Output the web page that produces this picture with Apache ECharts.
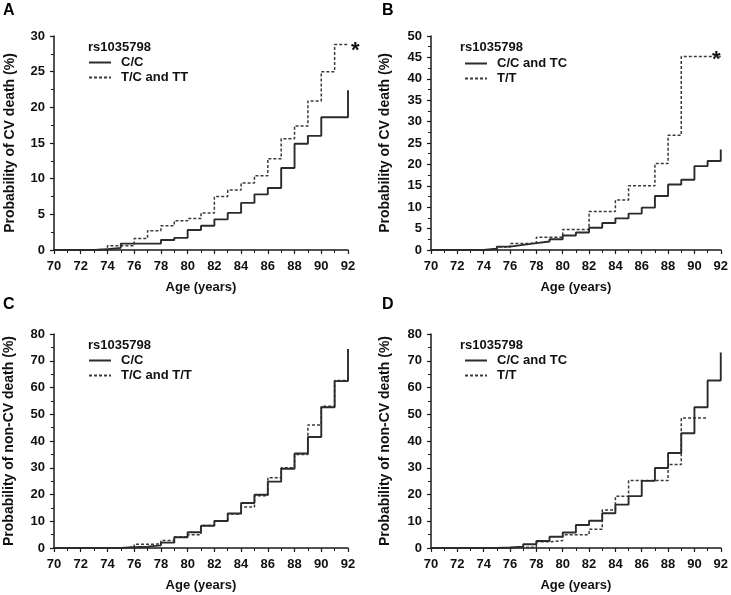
<!DOCTYPE html>
<html><head><meta charset="utf-8">
<script src="https://cdn.jsdelivr.net/npm/echarts@6/dist/echarts.min.js"></script>
<style>html,body{margin:0;padding:0;background:#fff}#c{width:731px;height:595px}</style>
</head><body><div id="c"></div>
<script>
// Age (years) at which each step starts
const years = [70,71,72,73,74,75,76,77,78,79,80,81,82,83,84,85,86,87,88,89,90,91,92];

// Panel A: probability of CV death (%)
const aNames = ['C/C', 'T/C and TT'];
const aSolid  = [0,0,0,0.1,0.3,0.9,0.9,0.9,1.4,1.7,2.8,3.4,4.3,5.2,6.6,7.8,8.7,11.5,14.9,16.0,18.6,18.6,22.4];
const aDashed = [0,0,0,0.1,0.6,0.6,1.6,2.7,3.4,4.1,4.4,5.2,7.5,8.4,9.4,10.4,12.8,15.6,17.4,20.9,25.0,28.8,28.8];

// Panel B: probability of CV death (%)
const bNames = ['C/C and TC', 'T/T'];
const bSolid  = [0,0,0,0,0.3,0.8,1.2,1.6,2.0,2.5,3.4,4.1,5.2,6.3,7.4,8.5,9.9,12.6,15.3,16.4,19.6,20.8,23.5];
const bDashed = [0,0,0,0,0.2,0.7,1.5,1.6,3.0,3.0,4.8,4.8,9.0,9.0,11.7,15.0,15.0,20.2,26.8,45.2,45.2,45.2,45.2];

// Panel C: probability of non-CV death (%)
const cNames = ['C/C', 'T/C and T/T'];
const cSolid  = [0,0,0,0,0,0.3,0.5,1.0,2.0,4.0,5.9,8.3,10.1,12.9,16.8,19.9,24.8,29.6,35.3,41.5,52.6,62.4,74.4];
const cDashed = [0,0,0,0,0,0.3,1.4,1.5,2.8,4.1,5.0,8.4,10.0,12.7,15.3,19.5,26.3,30.0,35.0,46.0,53.0,62.6,62.6];

// Panel D: probability of non-CV death (%)
const dNames = ['C/C and TC', 'T/T'];
const dSolid  = [0,0,0,0,0,0.2,0.5,1.4,2.6,4.2,5.8,8.6,10.2,13.0,16.2,19.4,25.1,29.9,35.5,42.9,52.6,62.6,73.1];
const dDashed = [0,0,0,0,0,0,0.2,0.3,2.3,2.8,5.0,5.0,7.0,14.2,19.3,25.2,25.2,25.2,31.2,48.6,48.6,48.6,null];

const panelLetters = ['A','B','C','D'];
const snpLabel = 'rs1035798';
const yTitles = ['Probability of CV death (%)','Probability of CV death (%)','Probability of non-CV death (%)','Probability of non-CV death (%)'];
const yMax = [30, 50, 80, 80];
const yInterval = [5, 5, 10, 10];
const xTitle = 'Age (years)';

const FONT = 'Liberation Sans, Arial, sans-serif';
const TXT = '#111';

const grids = [
  {left: 54, top: 36, width: 294, height: 214},
  {left: 431, top: 36, width: 292, height: 214},
  {left: 54, top: 334, width: 294, height: 214},
  {left: 431, top: 334, width: 292, height: 214}
];
const yNameGap = [37, 39, 38, 39];

function pairs(vals){ const out=[]; vals.forEach((v,i)=>{ if(v!==null) out.push([years[i], v]); }); return out; }

const panels = [
  {names:aNames, s:aSolid, d:aDashed},
  {names:bNames, s:bSolid, d:bDashed},
  {names:cNames, s:cSolid, d:cDashed},
  {names:dNames, s:dSolid, d:dDashed}
];

const axisLineStyle = {color:'#1a1a1a', width:1.5};
const labelStyle = {color:TXT, fontFamily:FONT, fontWeight:'bold', fontSize:13};

const xAxis = grids.map((g,i)=>({
  type:'value', gridIndex:i, min:70, max:92, interval:2,
  name: xTitle, nameLocation:'middle', nameGap:31,
  nameTextStyle:{color:TXT, fontFamily:FONT, fontWeight:'bold', fontSize:13},
  axisLine:{show:true, onZero:false, lineStyle:axisLineStyle},
  axisTick:{show:true, inside:false, length:4, lineStyle:{color:'#1a1a1a', width:1.2}},
  minorTick:{show:true, splitNumber:2, length:3, lineStyle:{color:'#1a1a1a', width:1}},
  axisLabel:Object.assign({margin:10}, labelStyle),
  splitLine:{show:false}, minorSplitLine:{show:false}
}));

const yAxis = grids.map((g,i)=>({
  type:'value', gridIndex:i, min:0, max:yMax[i], interval:yInterval[i],
  name: yTitles[i], nameLocation:'middle', nameGap:yNameGap[i],
  nameTextStyle:{color:TXT, fontFamily:FONT, fontWeight:'bold', fontSize:14},
  axisLine:{show:true, lineStyle:axisLineStyle},
  axisTick:{show:true, inside:false, length:4, lineStyle:{color:'#1a1a1a', width:1.2}},
  minorTick:{show:true, splitNumber:2, length:3, lineStyle:{color:'#1a1a1a', width:1}},
  axisLabel:Object.assign({margin:9}, labelStyle),
  splitLine:{show:false}, minorSplitLine:{show:false}
}));

const series = [];
panels.forEach((p,i)=>{
  series.push({
    type:'line', name:p.names[0], xAxisIndex:i, yAxisIndex:i, step:'end',
    symbol:'none', data:pairs(p.s), clip:false, z:3,
    lineStyle:{color:'#2b2b2b', width:1.9, type:'solid'}, itemStyle:{color:'#2b2b2b'}
  });
  series.push({
    type:'line', name:p.names[1], xAxisIndex:i, yAxisIndex:i, step:'end',
    symbol:'none', data:pairs(p.d), clip:false, z:2,
    lineStyle:{color:'#3a3a3a', width:1.5, type:[3,2]}, itemStyle:{color:'#3a3a3a'}
  });
});

const legendPos = [
  {left:88, top:56}, {left:464, top:57}, {left:88, top:354}, {left:464, top:354}
];
const legend = panels.map((p,i)=>({
  left:legendPos[i].left, top:legendPos[i].top, orient:'vertical', padding:0,
  data:p.names, selectedMode:false, itemWidth:22, itemHeight:14, itemGap:2,
  itemStyle:{color:'transparent', borderColor:'transparent', borderWidth:0, opacity:0},
  textStyle:{color:TXT, fontFamily:FONT, fontWeight:'bold', fontSize:13, padding:[0,0,0,5]}
}));

const snpPos = [[88,48],[460,48],[88,346],[460,346]];
const letterPos = [[3,11],[382,11],[3,305],[382,305]];
const graphic = [];
panelLetters.forEach((L,i)=>{
  graphic.push({type:'text', left:letterPos[i][0], top:letterPos[i][1]-8,
    style:{text:L, fill:'#000', font:'bold 16px '+FONT}});
  graphic.push({type:'text', left:snpPos[i][0], top:snpPos[i][1]-7,
    style:{text:snpLabel, fill:TXT, font:'bold 13px '+FONT}});
});
graphic.push({type:'text', left:351, top:40, style:{text:'*', fill:'#111', font:'bold 22px '+FONT}});
graphic.push({type:'text', left:712, top:49, style:{text:'*', fill:'#111', font:'bold 22px '+FONT}});

const chart = echarts.init(document.getElementById('c'), null, {renderer:'canvas'});
chart.setOption({
  backgroundColor:'#fff', animation:false,
  grid: grids, xAxis, yAxis, series, legend, graphic
});
</script></body></html>
